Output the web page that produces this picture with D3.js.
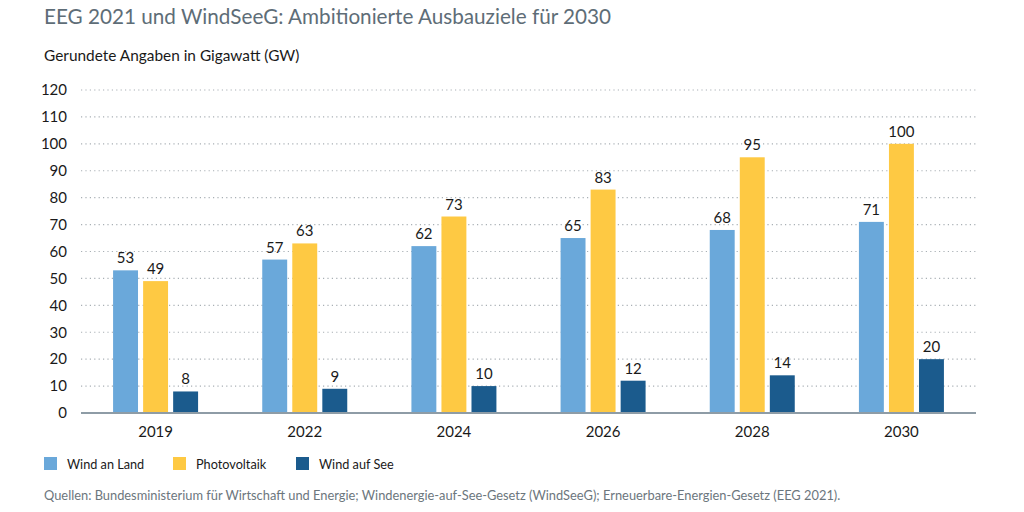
<!DOCTYPE html>
<html>
<head>
<meta charset="utf-8">
<script src="https://cdn.jsdelivr.net/npm/d3@7"></script>
<style>
  body { margin: 0; background: #fff; }
  text { font-family: Lato, "Open Sans", sans-serif; }
</style>
</head>
<body>
<svg id="chart" width="1024" height="512"></svg>
<script>
const years = ["2019", "2022", "2024", "2026", "2028", "2030"];
const series = ["Wind an Land", "Photovoltaik", "Wind auf See"];
const windLand = [53, 57, 62, 65, 68, 71];
const photovoltaik = [49, 63, 73, 83, 95, 100];
const windSee = [8, 9, 10, 12, 14, 20];
const yTicks = [0, 10, 20, 30, 40, 50, 60, 70, 80, 90, 100, 110, 120];
const colors = ["#6aa8da", "#fec943", "#1b5b8d"];

const values = [windLand, photovoltaik, windSee];
const rows = years.map((y, i) => ({ year: y, vals: values.map(v => v[i]) }));

const svg = d3.select("#chart");
const plotL = 81, plotR = 976, plotT = 90, plotB = 413;
const font = "Lato, 'Open Sans', sans-serif";

const x = d3.scaleBand(years, [plotL, plotR]);
const xs = d3.scaleBand(series, [0, 85]).paddingInner(0.17);
const y = d3.scaleLinear([0, 120], [plotB, plotT]);

// title
svg.append("text")
    .attr("x", 44).attr("y", 24)
    .attr("fill", "#5e6d77")
    .style("font-size", "20.7px")
    .text("EEG 2021 und WindSeeG: Ambitionierte Ausbauziele für 2030");

svg.append("text")
    .attr("x", 44).attr("y", 61)
    .attr("fill", "#1a1a1a")
    .style("font-size", "15.4px")
    .text("Gerundete Angaben in Gigawatt (GW)");

// grid
svg.append("g")
    .selectAll("line")
    .data(yTicks.filter(d => d > 0))
    .join("line")
    .attr("x1", plotL).attr("x2", plotR)
    .attr("y1", d => y(d)).attr("y2", d => y(d))
    .attr("stroke", "#a9b0b5")
    .attr("stroke-width", 1.2)
    .attr("stroke-dasharray", "1.2,3.2");

// y axis labels
const yAxis = svg.append("g")
    .attr("transform", "translate(" + (plotL - 14) + ",0)")
    .call(d3.axisLeft(y).tickValues(yTicks).tickSize(0).tickPadding(0));
yAxis.select(".domain").remove();
yAxis.selectAll("text")
    .attr("fill", "#1a1a1a")
    .style("font-size", "15px")
    .style("font-family", font);

// bars
const groups = svg.append("g")
    .selectAll("g")
    .data(rows)
    .join("g")
    .attr("transform", d => "translate(" + (x(d.year) + x.bandwidth() / 2 - 42.5) + ",0)");

groups.selectAll("rect")
    .data(d => d.vals.map((v, i) => ({ key: series[i], v: v, i: i })))
    .join("rect")
    .attr("x", d => xs(d.key))
    .attr("width", xs.bandwidth())
    .attr("y", d => y(d.v))
    .attr("height", d => y(0) - y(d.v))
    .attr("fill", d => colors[d.i]);

groups.selectAll("text")
    .data(d => d.vals.map((v, i) => ({ key: series[i], v: v, i: i })))
    .join("text")
    .attr("x", d => xs(d.key) + xs.bandwidth() / 2)
    .attr("y", d => y(d.v) - 7)
    .attr("text-anchor", "middle")
    .attr("fill", "#1a1a1a")
    .style("font-size", "15px")
    .text(d => d.v);

// baseline
svg.append("line")
    .attr("x1", plotL).attr("x2", plotR)
    .attr("y1", plotB).attr("y2", plotB)
    .attr("stroke", "#8e9ca6")
    .attr("stroke-width", 2);

// x axis labels
const xAxis = svg.append("g")
    .attr("transform", "translate(0," + (plotB + 10) + ")")
    .call(d3.axisBottom(x).tickSize(0).tickPadding(0));
xAxis.select(".domain").remove();
xAxis.selectAll("text")
    .attr("fill", "#1a1a1a")
    .attr("dy", "0.9em")
    .style("font-size", "15px")
    .style("font-family", font);

// legend
const legendX = [44, 173, 296];
const legend = svg.append("g")
    .selectAll("g")
    .data(series)
    .join("g")
    .attr("transform", (d, i) => "translate(" + legendX[i] + ",457)");
legend.append("rect")
    .attr("width", 13).attr("height", 13)
    .attr("fill", (d, i) => colors[i]);
legend.append("text")
    .attr("x", 23).attr("y", 11.5)
    .attr("fill", "#1a1a1a")
    .style("font-size", "12.7px")
    .text(d => d);

// source
svg.append("text")
    .attr("x", 44).attr("y", 500)
    .attr("fill", "#6c767d")
    .style("font-size", "12.85px")
    .text("Quellen: Bundesministerium für Wirtschaft und Energie; Windenergie-auf-See-Gesetz (WindSeeG); Erneuerbare-Energien-Gesetz (EEG 2021).");
</script>
</body>
</html>
